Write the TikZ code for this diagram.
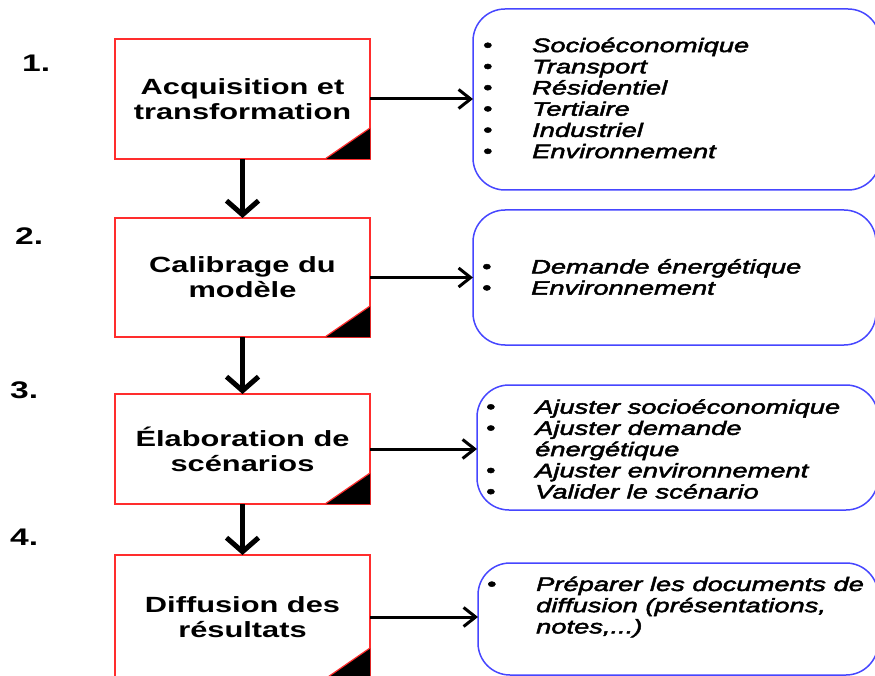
\documentclass[tikz,border=0pt]{standalone}
\usepackage{fontspec}
\setmainfont{Liberation Sans}[FakeStretch=1.4]
\newfontfamily\listfont{Liberation Sans}[FakeStretch=1.4,FakeBold=2.5]
\usetikzlibrary{arrows.meta}
\definecolor{boxred}{RGB}{255,45,45}
\definecolor{boxblue}{RGB}{70,70,255}
\newcommand{\bul}{\makebox[49pt][l]{\raisebox{0.5pt}{\fontsize{19}{19}\selectfont\upshape\textbullet}}}
\newcommand{\ind}{\hspace*{49pt}}
\begin{document}
\begin{tikzpicture}[x=1pt,y=-1pt,
 stepbox/.style={draw=boxred,line width=1.2pt,minimum width=255pt,inner sep=0pt,outer sep=0pt,align=center,font=\fontsize{22}{25}\selectfont\bfseries},
 infobox/.style={draw=boxblue,line width=1.5pt,rounded corners=32pt,inner sep=0pt,outer sep=0pt},
 listtext/.style={anchor=west,inner sep=0pt,align=left,font=\listfont\fontsize{19.5}{21.2}\selectfont\itshape},
 num/.style={anchor=base west,inner sep=0pt,font=\fontsize{24}{24}\selectfont\bfseries},
 downarrow/.style={line width=5pt,-{Straight Barb[length=14pt,width=32pt]}},
 sidearrow/.style={line width=3pt,-{Straight Barb[length=12pt,width=19pt]}}
]
\clip (0,0) rectangle (875,676);
\fill[white] (0,0) rectangle (875,676);

% step boxes
\node[stepbox,minimum height=120pt] (r1) at (242.5,99) {Acquisition et\\transformation};
\node[stepbox,minimum height=119pt] (r2) at (242.5,277.5) {Calibrage du\\modèle};
\node[stepbox,minimum height=110pt] (r3) at (242.5,449) {Élaboration de\\scénarios};
\node[stepbox,minimum height=124pt] (r4) at (242.5,617) {Diffusion des\\résultats};

\foreach \n in {r1,r2,r3,r4} {
  \fill (\n.south east) -- ++(-45,0) -- ++(45,-31) -- cycle;
  \draw[boxred,line width=1.2pt] (\n.south east) ++(-45,0) -- ++(45,-31);
}

% numbers
\node[num] (n1) at (22,72) {1.};
\node[num] (n2) at (15,245) {2.};
\node[num] (n3) at (10,398) {3.};
\node[num] (n4) at (10,545) {4.};

% info boxes
\node[infobox,minimum width=407pt,minimum height=181pt] (b1) at (676.5,99.5) {};
\node[infobox,minimum width=403pt,minimum height=135pt] (b2) at (674.5,277.5) {};
\node[infobox,minimum width=401pt,minimum height=125pt] (b3) at (677.5,447.5) {};
\node[infobox,minimum width=400pt,minimum height=112pt] (b4) at (678,619) {};

\node[listtext] (l1) at (483,98) {\bul Socioéconomique\\\bul Transport\\\bul Résidentiel\\\bul Tertiaire\\\bul Industriel\\\bul Environnement};
\node[listtext] (l2) at (482,277) {\bul Demande énergétique\\\bul Environnement};
\node[listtext] (l3) at (486,449) {\bul Ajuster socioéconomique\\\bul Ajuster demande\\\ind énergétique\\\bul Ajuster environnement\\\bul Valider le scénario};
\node[listtext] (l4) at (487,607) {\bul Préparer les documents de\\\ind diffusion (présentations,\\\ind notes,...)};

% connectors
\draw[downarrow] (r1.south) -- (r2.north);
\draw[downarrow] (r2.south) -- (r3.north);
\draw[downarrow] (r3.south) -- (r4.north);
\draw[sidearrow] (r1.east) -- (r1.east -| b1.west);
\draw[sidearrow] (r2.east) -- (r2.east -| b2.west);
\draw[sidearrow] (r3.east) -- (r3.east -| b3.west);
\draw[sidearrow] (r4.east) -- (r4.east -| b4.west);
\end{tikzpicture}
\end{document}
